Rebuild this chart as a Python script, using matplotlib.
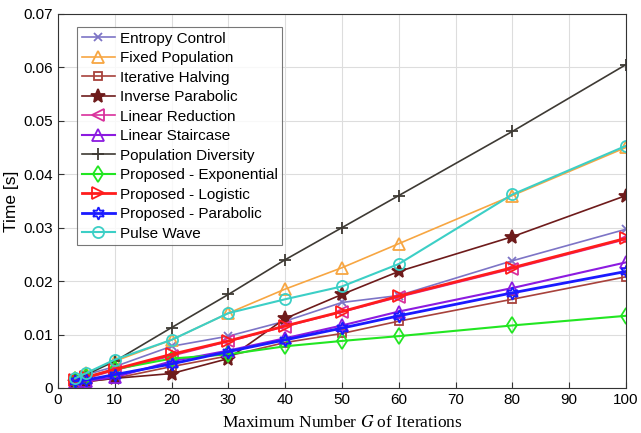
import matplotlib
matplotlib.use("Agg")
import matplotlib.pyplot as plt
import numpy as np

iters = [3, 5, 10, 20, 30, 40, 50, 60, 80, 100]

entropy_control = [0.0015, 0.0025, 0.0040, 0.0078, 0.0097, 0.0125, 0.0160, 0.0173, 0.0238, 0.0297]
fixed_population = [0.0018, 0.0028, 0.0050, 0.0090, 0.0140, 0.0185, 0.0225, 0.0270, 0.0360, 0.0450]
iterative_halving = [0.0010, 0.0012, 0.0018, 0.0040, 0.0060, 0.0085, 0.0102, 0.0125, 0.0166, 0.0208]
inverse_parabolic = [0.0012, 0.0012, 0.0018, 0.0027, 0.0055, 0.0130, 0.0175, 0.0218, 0.0283, 0.0360]
linear_reduction = [0.0013, 0.0018, 0.0033, 0.0060, 0.0087, 0.0115, 0.0142, 0.0170, 0.0223, 0.0278]
linear_staircase = [0.0012, 0.0013, 0.0020, 0.0050, 0.0070, 0.0093, 0.0117, 0.0143, 0.0187, 0.0235]
population_diversity = [0.0018, 0.0025, 0.0050, 0.0113, 0.0175, 0.0240, 0.0300, 0.0360, 0.0480, 0.0605]
prop_exponential = [0.0015, 0.0020, 0.0035, 0.0055, 0.0063, 0.0078, 0.0088, 0.0097, 0.0117, 0.0135]
prop_logistic = [0.0015, 0.0020, 0.0035, 0.0063, 0.0088, 0.0116, 0.0143, 0.0172, 0.0225, 0.0280]
prop_parabolic = [0.0013, 0.0015, 0.0025, 0.0045, 0.0068, 0.0090, 0.0112, 0.0135, 0.0178, 0.0218]
pulse_wave = [0.0018, 0.0028, 0.0053, 0.0090, 0.0140, 0.0166, 0.0190, 0.0232, 0.0362, 0.0453]

names = ["Entropy Control", "Fixed Population", "Iterative Halving", "Inverse Parabolic",
         "Linear Reduction", "Linear Staircase", "Population Diversity",
         "Proposed - Exponential", "Proposed - Logistic", "Proposed - Parabolic", "Pulse Wave"]
series = [entropy_control, fixed_population, iterative_halving, inverse_parabolic,
          linear_reduction, linear_staircase, population_diversity,
          prop_exponential, prop_logistic, prop_parabolic, pulse_wave]

# style per series: colour, marker, filled, line width, marker size
styles = [
    ("#7d74c6", "x", False, 1.2, 6),
    ("#f7a642", "^", False, 1.2, 8),
    ("#a8423c", "s", False, 1.2, 6),
    ("#6e1b1b", "*", True, 1.2, 10),
    ("#d9309c", "<", False, 1.2, 8),
    ("#8c1be0", "^", False, 1.5, 8),
    ("#3e3a34", "+", False, 1.2, 8),
    ("#22e622", "d", False, 1.5, 8),
    ("#ff1c1c", ">", False, 2.0, 8),
    ("#1a1aff", (6, 1, 0), False, 2.0, 9),
    ("#3ccfc6", "o", False, 1.5, 8),
]

plt.rcParams['font.family'] = ['Liberation Sans', 'DejaVu Sans']
plt.rcParams['mathtext.fontset'] = 'stix'

fig = plt.figure(figsize=(6.41, 4.33), dpi=100)
ax = fig.add_axes([0.0905, 0.104, 0.886, 0.864])

for name, ys, (c, m, filled, lw, ms) in zip(names, series, styles):
    ax.plot(iters, ys, color=c, marker=m, lw=lw, ms=ms,
            markerfacecolor=c if filled else "none", markeredgewidth=1.3, label=name)

ax.set_xlim(0, 100)
ax.set_ylim(0, 0.07)
ax.set_xticks(np.arange(0, 101, 10))
ax.set_yticks(np.arange(0, 0.071, 0.01))
ax.set_yticklabels(["0", "0.01", "0.02", "0.03", "0.04", "0.05", "0.06", "0.07"])
ax.tick_params(labelsize=11, direction="in", length=4, color="#333333")
ax.grid(True, color="#dddddd", lw=0.8)
for s in ax.spines.values():
    s.set_color("#333333")

ax.set_ylabel("Time [s]", fontsize=12.5)
ax.yaxis.set_label_coords(-0.068, 0.5)
ax.set_xlabel("Maximum Number $G$ of Iterations", fontsize=12.5, family="Liberation Serif",
              labelpad=6)

leg = ax.legend(loc="upper left", bbox_to_anchor=(0.02, 0.985), fontsize=11,
                frameon=True, fancybox=False, edgecolor="#555555",
                handlelength=2.2, handletextpad=0.3, labelspacing=0.36, borderpad=0.3)
leg.get_frame().set_linewidth(0.8)

plt.savefig("out.png", dpi=100)
